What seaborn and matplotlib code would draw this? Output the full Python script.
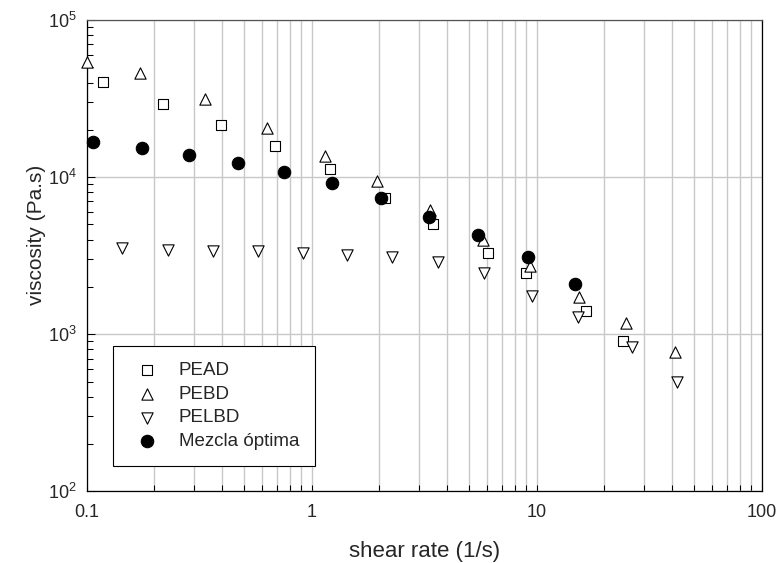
import matplotlib
matplotlib.use("Agg")
import matplotlib.pyplot as plt
from matplotlib import ticker
import seaborn as sns
import pandas as pd

# values
pead_rate = [0.118, 0.219, 0.394, 0.687, 1.21, 2.12, 3.46, 6.08, 8.96, 16.6, 24.2]
pead_visc = [40300, 29200, 21500, 15800, 11300, 7400, 5050, 3300, 2470, 1400, 900]

pebd_rate = [0.1, 0.173, 0.336, 0.631, 1.15, 1.95, 3.36, 5.75, 9.33, 15.4, 24.9, 41.2]
pebd_visc = [54000, 45700, 31300, 20500, 13600, 9400, 6200, 4000, 2700, 1730, 1180, 770]

pelbd_rate = [0.144, 0.229, 0.363, 0.575, 0.918, 1.44, 2.28, 3.63, 5.81, 9.56, 15.3, 26.6, 42.2]
pelbd_visc = [3540, 3450, 3400, 3370, 3290, 3210, 3090, 2870, 2460, 1760, 1290, 828, 499]

mezcla_rate = [0.107, 0.176, 0.284, 0.470, 0.756, 1.235, 2.03, 3.33, 5.47, 9.18, 14.8]
mezcla_visc = [16800, 15300, 13800, 12300, 10700, 9160, 7410, 5570, 4260, 3090, 2100]

series_names = ["PEAD", "PEBD", "PELBD", "Mezcla óptima"]
series_rates = [pead_rate, pebd_rate, pelbd_rate, mezcla_rate]
series_visc = [pead_visc, pebd_visc, pelbd_visc, mezcla_visc]
x_tick_labels = ["0.1", "1", "10", "100"]

sns.set_style("ticks")
plt.rcParams["font.family"] = ["Liberation Sans", "DejaVu Sans"]
plt.rcParams["mathtext.fontset"] = "custom"
plt.rcParams["mathtext.rm"] = "Liberation Sans"
plt.rcParams["mathtext.it"] = "Liberation Sans:italic"

frames = []
for name, rates, visc in zip(series_names, series_rates, series_visc):
    frames.append(pd.DataFrame({"rate": rates, "visc": visc, "serie": name}))
df = pd.concat(frames, ignore_index=True)

markers = {"PEAD": "s", "PEBD": "^", "PELBD": "v", "Mezcla óptima": "o"}
faces = {"PEAD": "white", "PEBD": "white", "PELBD": "white", "Mezcla óptima": "black"}
sizes = {"PEAD": 60, "PEBD": 66, "PELBD": 66, "Mezcla óptima": 80}

fig, ax = plt.subplots(figsize=(7.78, 5.63), dpi=100)
fig.subplots_adjust(left=0.1114, right=0.979, top=0.9645, bottom=0.1273)

ax.set_xscale("log")
ax.set_yscale("log")

for name in series_names:
    sub = df[df["serie"] == name]
    sns.scatterplot(data=sub, x="rate", y="visc", marker=markers[name], s=sizes[name],
                    facecolor=faces[name], edgecolor="black", linewidth=0.8,
                    label=name, ax=ax, zorder=3, clip_on=False)

ax.set_xlim(0.1, 100)
ax.set_ylim(100, 100000)

ax.xaxis.set_major_locator(ticker.FixedLocator([0.1, 1, 10, 100]))
ax.xaxis.set_major_formatter(ticker.FixedFormatter(x_tick_labels))
ax.xaxis.set_minor_locator(ticker.LogLocator(base=10, subs=range(2, 10), numticks=20))
ax.xaxis.set_minor_formatter(ticker.NullFormatter())
ax.yaxis.set_major_locator(ticker.LogLocator(base=10, numticks=10))
ax.yaxis.set_major_formatter(ticker.LogFormatterSciNotation())
ax.yaxis.set_minor_locator(ticker.LogLocator(base=10, subs=range(2, 10), numticks=20))
ax.yaxis.set_minor_formatter(ticker.NullFormatter())

ax.grid(which="major", axis="both", color="#c8c8c8", linewidth=1.0, zorder=0)
ax.grid(which="minor", axis="x", color="#c8c8c8", linewidth=1.0, zorder=0)
ax.set_axisbelow(True)

ax.tick_params(which="both", direction="in", top=False, right=False,
               color="black", width=0.75, labelsize=13)
ax.tick_params(axis="y", which="major", length=6, pad=7)
ax.tick_params(axis="y", which="minor", length=4)
ax.tick_params(axis="x", which="both", length=4, pad=9)

for side in ["left", "bottom", "right"]:
    ax.spines[side].set_color("black")
    ax.spines[side].set_linewidth(0.9)
ax.spines["top"].set_color("#555555")
ax.spines["top"].set_linewidth(0.9)

ax.set_xlabel("shear rate (1/s)", fontsize=16)
ax.set_ylabel("viscosity (Pa.s)", fontsize=15)
ax.xaxis.set_label_coords(0.5, -0.128)
ax.yaxis.set_label_coords(-0.075, 0.544)
ax.xaxis.label.set_va("center")
ax.yaxis.label.set_va("center")

leg = ax.legend(loc="lower left", bbox_to_anchor=(0.0385, 0.0543), borderaxespad=0,
                frameon=True, fancybox=False, edgecolor="black", framealpha=1,
                fontsize=13.5, borderpad=0.82, labelspacing=0.36, handlelength=2.0,
                handletextpad=0.7, markerscale=1.0)
leg.get_frame().set_linewidth(0.8)

plt.savefig("out.png", dpi=100)
